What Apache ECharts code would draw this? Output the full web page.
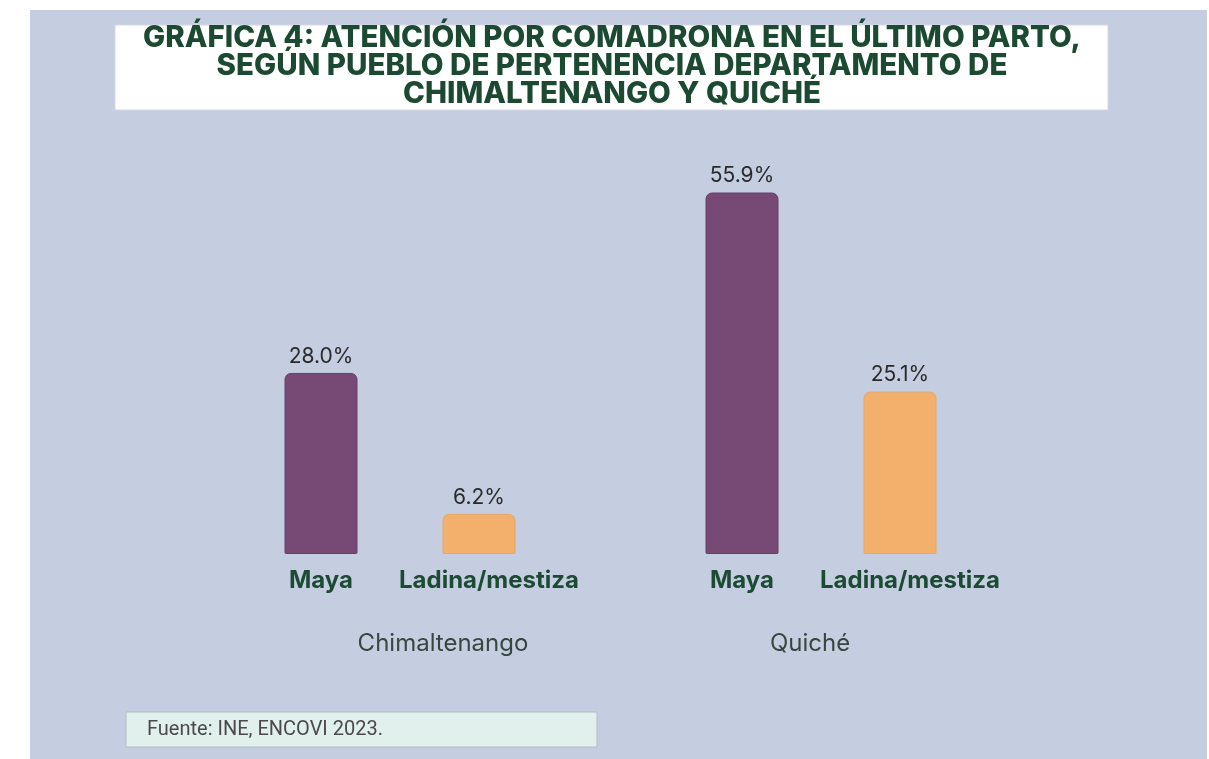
<!DOCTYPE html>
<html>
<head>
<meta charset="utf-8">
<script src="https://cdn.jsdelivr.net/npm/echarts@6/dist/echarts.min.js"></script>
<style>
  html, body { margin: 0; padding: 0; background: #fff; }
  #chart { width: 1209px; height: 759px; }
</style>
</head>
<body>
<div id="chart"></div>
<script>
// datos de la gráfica
var groups = ['Chimaltenango', 'Quiché'];
var pueblos = ['Maya', 'Ladina/mestiza'];
var mayaValues = [28.0, 55.9];
var ladinaValues = [6.2, 25.1];
var colors = ['#774a76', '#f3b06d'];
var borders = ['#6a3e69', '#e9a765'];

var titleText = 'GRÁFICA 4: ATENCIÓN POR COMADRONA EN EL ÚLTIMO PARTO,\nSEGÚN PUEBLO DE PERTENENCIA DEPARTAMENTO DE\nCHIMALTENANGO Y QUICHÉ';
var sourceText = 'Fuente: INE, ENCOVI 2023.';

var chart = echarts.init(document.getElementById('chart'));

// una rejilla por departamento
var gridLeft = [242, 663];
var groupPad = [[0, 0, 0, 86], [0, 22, 0, 0]];
var pueblosPad = [[0, 0, 0, 0], [0, 0, 0, 20]];

var grids = [], xAxes = [], yAxes = [], series = [];
groups.forEach(function (g, i) {
  grids.push({ left: gridLeft[i], width: 316, top: 166, bottom: 205 });
  xAxes.push({
    type: 'category',
    gridIndex: i,
    data: pueblos.map(function (p, k) {
      return { value: p, textStyle: { padding: pueblosPad[k] } };
    }),
    axisLine: { show: false },
    axisTick: { show: false },
    axisLabel: {
      interval: 0,
      margin: 15,
      fontFamily: 'Inter',
      fontWeight: 'bold',
      fontSize: 24,
      color: '#1c4a33'
    }
  });
  // etiqueta del departamento
  xAxes.push({
    type: 'category',
    gridIndex: i,
    position: 'bottom',
    offset: 62,
    data: [g],
    axisLine: { show: false },
    axisTick: { show: false },
    axisLabel: {
      margin: 16,
      fontFamily: 'Inter',
      fontSize: 24,
      color: '#37473f',
      padding: groupPad[i]
    }
  });
  yAxes.push({
    type: 'value',
    gridIndex: i,
    min: 0,
    max: 60,
    show: false,
    splitLine: { show: false }
  });
  var vals = [mayaValues[i], ladinaValues[i]];
  series.push({
    type: 'bar',
    xAxisIndex: i * 2,
    yAxisIndex: i,
    barWidth: 73,
    data: vals.map(function (v, k) {
      return {
        value: v,
        itemStyle: { color: colors[k], borderColor: borders[k], borderWidth: 1 }
      };
    }),
    itemStyle: { borderRadius: [6, 6, 1, 1] },
    label: {
      show: true,
      position: 'top',
      distance: 6,
      fontFamily: 'Inter',
      fontSize: 21,
      color: '#2a2a2a',
      formatter: function (p) { return p.value.toFixed(1) + '%'; }
    }
  });
});

var option = {
  backgroundColor: '#ffffff',
  animation: false,
  graphic: [
    { type: 'rect', z: 0, shape: { x: 30, y: 10, width: 1177, height: 749 }, style: { fill: '#c5cde1' } },
    { type: 'rect', z: 1, shape: { x: 115, y: 25, width: 993, height: 85 }, style: { fill: '#ffffff', stroke: '#d4d8e4', lineWidth: 1 } },
    {
      type: 'text', z: 2, x: 612, y: 24,
      style: {
        text: titleText, textAlign: 'center', textVerticalAlign: 'top',
        fontFamily: 'Inter', fontWeight: 800, fontSize: 29.5, lineHeight: 28, fill: '#1b4931'
      }
    },
    { type: 'rect', z: 1, shape: { x: 126, y: 712, width: 471, height: 35 }, style: { fill: '#e1f0ec', stroke: '#b4bac8', lineWidth: 1 } },
    { type: 'text', z: 2, x: 147, y: 730, style: { text: sourceText, fontFamily: 'Roboto', fontSize: 20, fill: '#4a4a4a', textVerticalAlign: 'middle' } }
  ],
  grid: grids,
  xAxis: xAxes,
  yAxis: yAxes,
  series: series
};

chart.setOption(option);
</script>
</body>
</html>
